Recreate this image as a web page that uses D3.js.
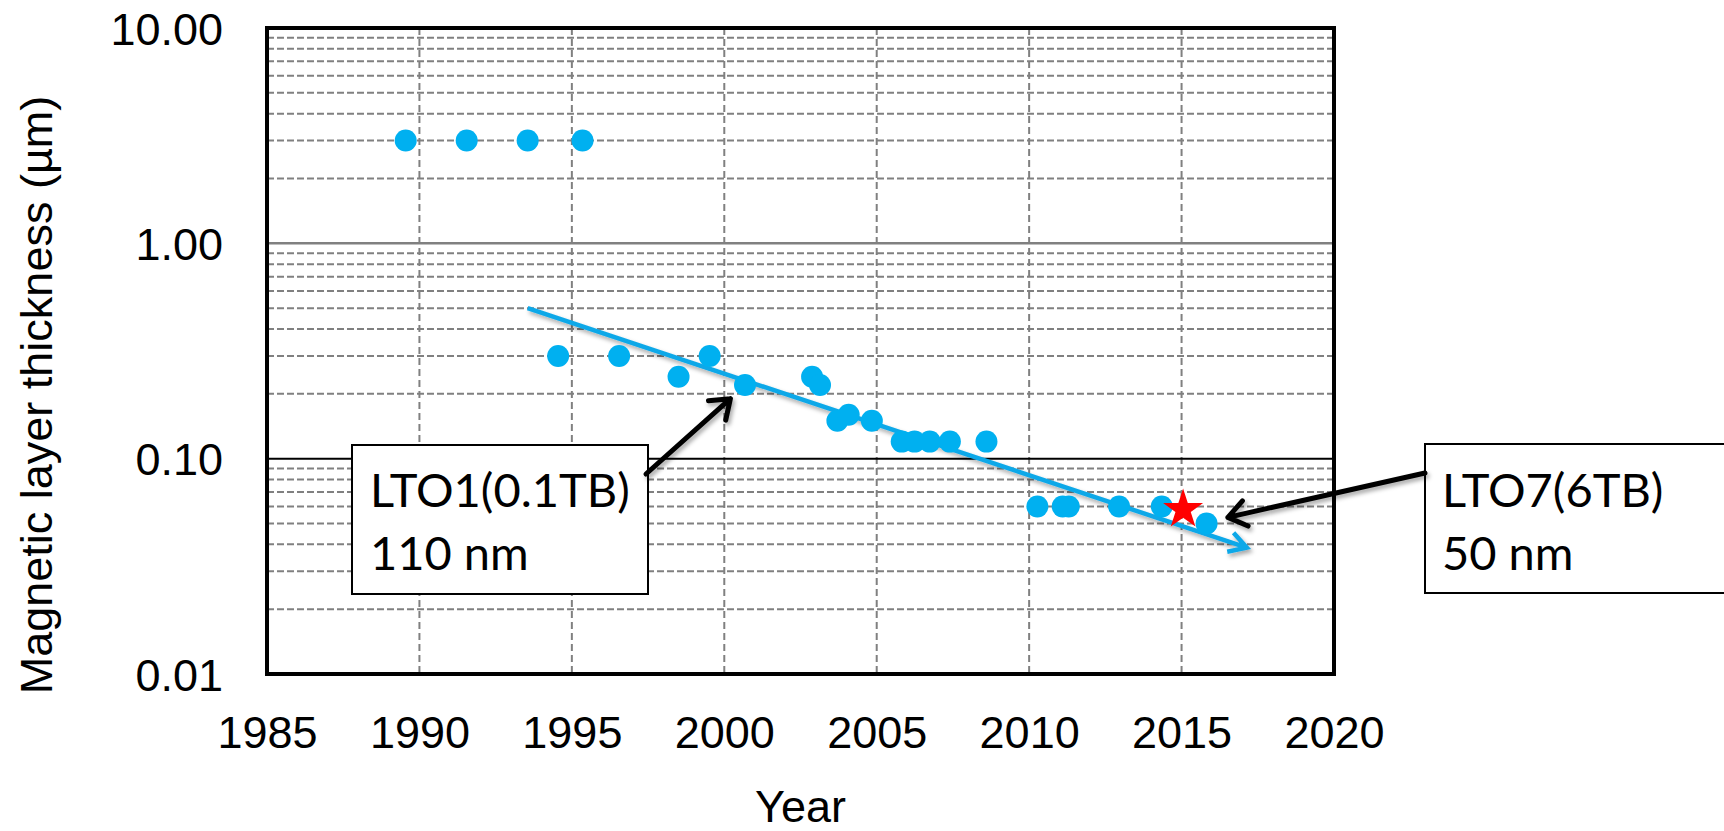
<!DOCTYPE html>
<html>
<head>
<meta charset="utf-8">
<script src="https://cdn.jsdelivr.net/npm/d3@7"></script>
<style>
  html, body { margin: 0; padding: 0; background: #fff; }
  svg { display: block; }
</style>
</head>
<body>
<svg id="chart" width="1724" height="831"></svg>
<script>
// Magnetic layer thickness of tape media versus year of introduction
const years = [1989.55, 1991.55, 1993.55, 1995.35, 1994.55, 1996.55, 1998.5, 1999.52,
               2000.68, 2002.88, 2003.14, 2003.71, 2004.08, 2004.84, 2005.82, 2006.24,
               2006.74, 2007.4, 2008.6, 2010.27, 2011.1, 2011.3, 2012.95, 2014.35, 2015.82];
const thickness = [3.0, 3.0, 3.0, 3.0, 0.30, 0.30, 0.24, 0.30,
                   0.22, 0.24, 0.22, 0.15, 0.16, 0.15, 0.12, 0.12,
                   0.12, 0.12, 0.12, 0.06, 0.06, 0.06, 0.06, 0.06, 0.05];

// Highlighted product (red star)
const starYear = [2015.05];
const starThickness = [0.058];

// Trend arrow end points
const trendYears = [1993.55, 2017.14];
const trendThickness = [0.50, 0.0386];

// Axis ticks
const xTicks = [1985, 1990, 1995, 2000, 2005, 2010, 2015, 2020];
const yTicks = [0.01, 0.1, 1, 10];
const yTickLabels = ["0.01", "0.10", "1.00", "10.00"];

// Callouts: text lines and the point each arrow points at
const noteText = [["LTO1(0.1TB)", "110 nm"], ["LTO7(6TB)", "50 nm"]];
const noteTargetYear = [2000.2, 2016.52];
const noteTargetThickness = [0.19, 0.0534];

const svg = d3.select("#chart");
const W = 1724, H = 831;
const plot = { left: 267, right: 1334, top: 28, bottom: 674 };

const x = d3.scaleLinear().domain([1985, 2020]).range([plot.left, plot.right]);
const y = d3.scaleLog().domain([0.01, 10]).range([plot.bottom, plot.top]);

svg.append("rect").attr("width", W).attr("height", H).attr("fill", "#fff");

// soft drop shadow used by the arrows
const defs = svg.append("defs");
const f = defs.append("filter").attr("id", "shadow")
  .attr("x", "-20%").attr("y", "-20%").attr("width", "140%").attr("height", "140%");
f.append("feDropShadow").attr("dx", 2).attr("dy", 3).attr("stdDeviation", 2)
  .attr("flood-color", "#000").attr("flood-opacity", 0.35);

const grid = svg.append("g");

// minor horizontal gridlines (2..9 within each decade)
const minor = [];
[0.01, 0.1, 1].forEach(d => { for (let k = 2; k <= 9; k++) minor.push(d * k); });
grid.selectAll("line.minor").data(minor).join("line")
  .attr("x1", plot.left).attr("x2", plot.right)
  .attr("y1", d => y(d)).attr("y2", d => y(d))
  .attr("stroke", "#808080").attr("stroke-width", 2)
  .attr("stroke-dasharray", "7,3");

// vertical gridlines
grid.selectAll("line.vx").data(xTicks.slice(1, -1)).join("line")
  .attr("x1", d => x(d)).attr("x2", d => x(d))
  .attr("y1", plot.top).attr("y2", plot.bottom)
  .attr("stroke", "#808080").attr("stroke-width", 2)
  .attr("stroke-dasharray", "7,4");

// major decade lines
grid.append("line")
  .attr("x1", plot.left).attr("x2", plot.right)
  .attr("y1", y(1)).attr("y2", y(1))
  .attr("stroke", "#808080").attr("stroke-width", 2.5);
grid.append("line")
  .attr("x1", plot.left).attr("x2", plot.right)
  .attr("y1", y(0.1)).attr("y2", y(0.1))
  .attr("stroke", "#000").attr("stroke-width", 2);

// plot frame
svg.append("rect")
  .attr("x", plot.left).attr("y", plot.top)
  .attr("width", plot.right - plot.left).attr("height", plot.bottom - plot.top)
  .attr("fill", "none").attr("stroke", "#000").attr("stroke-width", 4);

// axes
const axisFont = "'Liberation Sans', Arial, sans-serif";
const xAxis = svg.append("g")
  .attr("transform", `translate(0,${plot.bottom})`)
  .call(d3.axisBottom(x).tickValues(xTicks).tickFormat(d3.format("d")).tickSize(0).tickPadding(42));
xAxis.select(".domain").remove();
xAxis.selectAll("text")
  .attr("font-family", axisFont)
  .attr("font-size", 45).attr("fill", "#000");

const yAxis = svg.append("g")
  .attr("transform", `translate(${plot.left},0)`)
  .call(d3.axisLeft(y).tickValues(yTicks).tickFormat((d, i) => yTickLabels[i]).tickSize(0).tickPadding(44));
yAxis.select(".domain").remove();
yAxis.selectAll("text")
  .attr("font-family", axisFont)
  .attr("font-size", 45).attr("fill", "#000").attr("dy", "0.36em");

// axis titles
svg.append("text")
  .attr("x", (plot.left + plot.right) / 2).attr("y", 822)
  .attr("text-anchor", "middle")
  .attr("font-family", axisFont)
  .attr("font-size", 45).text("Year");
svg.append("text")
  .attr("transform", "translate(52,395) rotate(-90)")
  .attr("text-anchor", "middle")
  .attr("font-family", axisFont)
  .attr("font-size", 45).text("Magnetic layer thickness (\u00b5m)");

// open arrowhead path helper
function arrowPath(x1, y1, x2, y2, len, ang) {
  const a = Math.atan2(y2 - y1, x2 - x1);
  const p1 = [x2 - len * Math.cos(a - ang), y2 - len * Math.sin(a - ang)];
  const p2 = [x2 - len * Math.cos(a + ang), y2 - len * Math.sin(a + ang)];
  return `M${x1},${y1}L${x2},${y2}M${p1[0]},${p1[1]}L${x2},${y2}L${p2[0]},${p2[1]}`;
}

// trend arrow
const tx = trendYears.map(x), ty = trendThickness.map(y);
svg.append("path")
  .attr("d", arrowPath(tx[0], ty[0], tx[1], ty[1], 20, Math.PI / 6))
  .attr("fill", "none").attr("stroke", "#0FA8E8").attr("stroke-width", 4.5)
  .attr("stroke-linejoin", "miter").attr("filter", "url(#shadow)");

// data points
svg.append("g").selectAll("circle").data(years).join("circle")
  .attr("cx", d => x(d)).attr("cy", (d, i) => y(thickness[i]))
  .attr("r", 11).attr("fill", "#00B0F0");

// highlighted product
svg.append("g").selectAll("path").data(starYear).join("path")
  .attr("transform", (d, i) => `translate(${x(d)},${y(starThickness[i])})`)
  .attr("d", d3.symbol(d3.symbolStar, 495))
  .attr("fill", "#FF0000");

// callout boxes
const boxes = [
  { x: 352, y: 445, w: 296, h: 149, tx: 370, side: "right" },
  { x: 1425, y: 444, w: 320, h: 149, tx: 1442, side: "left" }
];
const noteFont = "Lato, 'Open Sans', sans-serif";
boxes.forEach((b, i) => {
  const g = svg.append("g");
  g.append("rect").attr("x", b.x).attr("y", b.y).attr("width", b.w).attr("height", b.h)
    .attr("fill", "#fff").attr("stroke", "#000").attr("stroke-width", 2);
  g.selectAll("text").data(noteText[i]).join("text")
    .attr("x", b.tx).attr("y", (d, j) => 507 + j * 63)
    .attr("font-family", noteFont).attr("font-size", 47).attr("fill", "#000")
    .text(d => d);
  const sx = b.side === "right" ? b.x + b.w - 2 : b.x;
  const sy = b.y + 29;
  svg.append("path")
    .attr("d", arrowPath(sx, sy, x(noteTargetYear[i]), y(noteTargetThickness[i]), 22, Math.PI / 5))
    .attr("fill", "none").attr("stroke", "#000").attr("stroke-width", 5)
    .attr("stroke-linecap", "round").attr("stroke-linejoin", "round")
    .attr("filter", "url(#shadow)");
});
</script>
</body>
</html>
